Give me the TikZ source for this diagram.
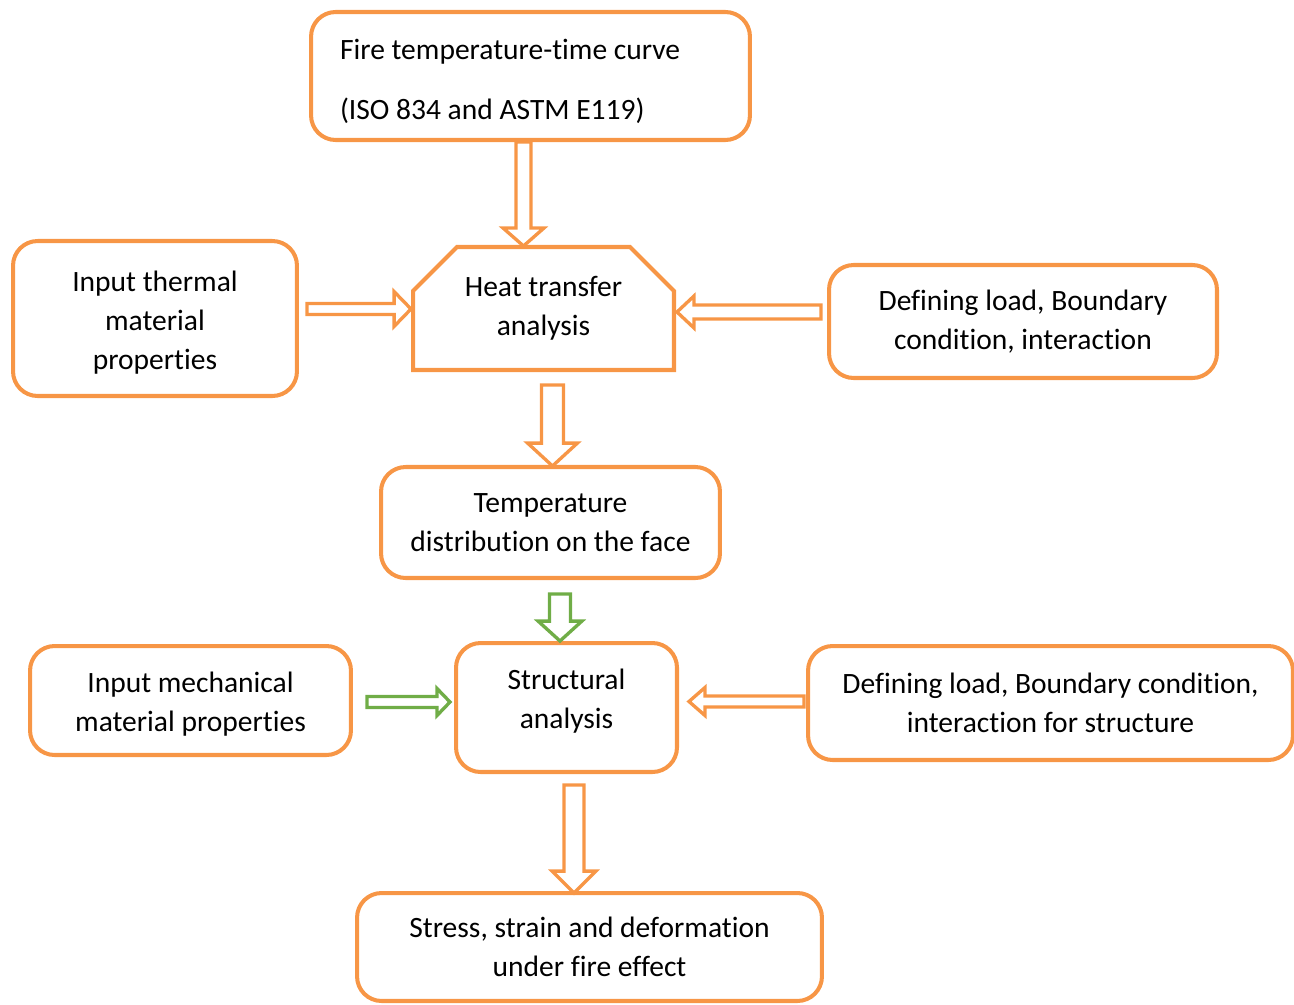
\documentclass[tikz,border=0pt]{standalone}
\usepackage{fontspec}
\setmainfont[Ligatures=NoCommon]{Carlito}
\usepackage{tikz}
\usetikzlibrary{calc,shapes.misc}

\definecolor{boxorange}{HTML}{F79646}
\definecolor{boxgreen}{HTML}{70AD47}
\def\pxu{0.5669pt}

\tikzset{
	box/.style={draw=boxorange, line width=2.3pt, rounded corners=14pt, inner sep=0pt, align=center,
		font=\fontsize{16.8}{22.1}\selectfont},
	chambox/.style={draw=boxorange, line width=2.3pt, chamfered rectangle,
		chamfered rectangle corners={north west,north east},
		chamfered rectangle xsep=0.44cm, chamfered rectangle ysep=0.44cm,
		inner sep=0pt, align=center, font=\fontsize{16.8}{22.1}\selectfont},
	arrowline/.style={line width=1.9pt, fill=white, line join=miter}
}

% hollow block arrow: [colour] {from} {to} {shaft half} {head half} {head length}, sizes in px
\newcommand{\blockarrow}[6][boxorange]{%
	\draw[arrowline, draw=#1] let \p1=(#2), \p2=(#3),
		\n1={veclen(\x2-\x1,\y2-\y1)}, \n2={atan2(\y2-\y1,\x2-\x1)} in
		[shift={(\x1,\y1)}, rotate=\n2]
		({0pt},{-#4*\pxu}) -- ({\n1*1pt-#6*\pxu},{-#4*\pxu}) -- ({\n1*1pt-#6*\pxu},{-#5*\pxu})
		-- ({\n1*1pt},{0pt}) -- ({\n1*1pt-#6*\pxu},{#5*\pxu}) -- ({\n1*1pt-#6*\pxu},{#4*\pxu})
		-- ({0pt},{#4*\pxu}) -- cycle;
}

\begin{document}
\begin{tikzpicture}[x=0.02cm, y=-0.02cm]
	\useasboundingbox (0,0) rectangle (1294,1004);

	% boxes
	\node[box, minimum width=8.78cm, minimum height=2.56cm, text width=7.62cm, align=flush left] (fire) at (530.5,76)
		{\rule{0pt}{18pt}Fire temperature-time curve\\[11.8pt](ISO 834 and ASTM E119)};
	\node[box, minimum width=5.68cm, minimum height=3.10cm] (thermal) at (155,318.5)
		{\rule{0pt}{16pt}Input thermal\\material\\properties};
	\node[chambox, minimum width=5.22cm, minimum height=2.46cm] (heat) at (543.5,308.5)
		{Heat transfer\\analysis};
	\node[box, minimum width=7.76cm, minimum height=2.26cm] (loadheat) at (1023,321.5)
		{Defining load, Boundary\\condition, interaction};
	\node[box, minimum width=6.78cm, minimum height=2.22cm] (temp) at (550.5,522.5)
		{Temperature\\distribution on the face};
	\node[box, minimum width=6.42cm, minimum height=2.18cm] (mech) at (190.5,700.5)
		{\rule{0pt}{16pt}Input mechanical\\material properties};
	\node[box, minimum width=4.42cm, minimum height=2.58cm] (struct) at (566.5,707.5)
		{Structural\\analysis\rule[-9.5pt]{0pt}{0pt}};
	\node[box, minimum width=9.70cm, minimum height=2.28cm] (loadstruct) at (1050.5,703)
		{Defining load, Boundary condition,\\interaction for structure};
	\node[box, minimum width=9.30cm, minimum height=2.16cm] (stress) at (589.5,947)
		{Stress, strain and deformation\\under fire effect};

	% arrows
	\blockarrow{$(fire.south)+(-7,0)$}{$(heat.north)+(-20,1)$}{7.5}{20.5}{18}
	\blockarrow{$(thermal.east)+(8,-9.5)$}{$(heat.west)+(0,0.5)$}{5.5}{17.5}{17}
	\blockarrow{$(loadheat.west)+(-6,-9.5)$}{$(heat.east)+(1,3.5)$}{7}{16}{17}
	\blockarrow{$(heat.south)+(9,13)$}{$(temp.north)+(2,1)$}{11}{25}{23}
	\blockarrow[boxgreen]{$(temp.south)+(9.5,14)$}{$(struct.north)+(-6.5,0)$}{10.5}{22}{20}
	\blockarrow[boxgreen]{$(mech.east)+(14,1.5)$}{$(struct.west)+(-4,-5.5)$}{5.5}{13.5}{13}
	\blockarrow{$(loadstruct.west)+(-2,-1.5)$}{$(struct.east)+(10,-6)$}{5.5}{14}{16}
	\blockarrow{$(struct.south)+(7.5,11)$}{$(stress.north)+(-15.5,2)$}{10}{22}{22}
\end{tikzpicture}
\end{document}
